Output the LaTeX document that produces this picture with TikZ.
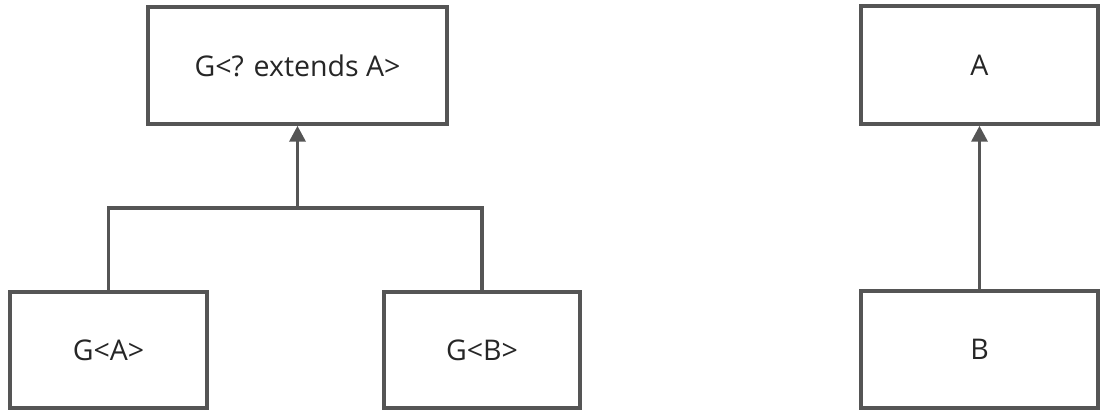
\documentclass[tikz,border=0pt]{standalone}
\usepackage{fontspec}
\setmainfont{Open Sans}
\usetikzlibrary{arrows.meta}
\definecolor{ln}{HTML}{555555}
\definecolor{tx}{HTML}{262626}
\begin{document}
\begin{tikzpicture}[x=1pt,y=-1pt,
  box/.style={draw=ln,line width=3.5pt,fill=white,inner sep=0pt,text=tx,font=\fontsize{28.5}{32}\selectfont},
  conn/.style={draw=ln,line width=3.5pt},
  arr/.style={conn,-{Triangle[length=16pt,width=16pt]}}]
\useasboundingbox (0,0) rectangle (1114,414);
\node[box,minimum width=299pt,minimum height=117pt] (top) at (297.5,65.5) {G<? extends A>};
\node[box,minimum width=197pt,minimum height=116pt] (ga) at (108.5,350) {G<A>};
\node[box,minimum width=196pt,minimum height=116pt] (gb) at (482,350) {G<B>};
\node[box,minimum width=237pt,minimum height=118pt] (a) at (979.5,65) {A};
\node[box,minimum width=237pt,minimum height=117pt] (b) at (979.5,349.5) {B};
\coordinate (j) at (297.5,208);
\draw[conn] (ga.north) |- (j);
\draw[conn] (gb.north) |- (j);
\draw[arr] (j) -- (top.south);
\draw[arr] (b.north) -- (a.south);
\end{tikzpicture}
\end{document}
